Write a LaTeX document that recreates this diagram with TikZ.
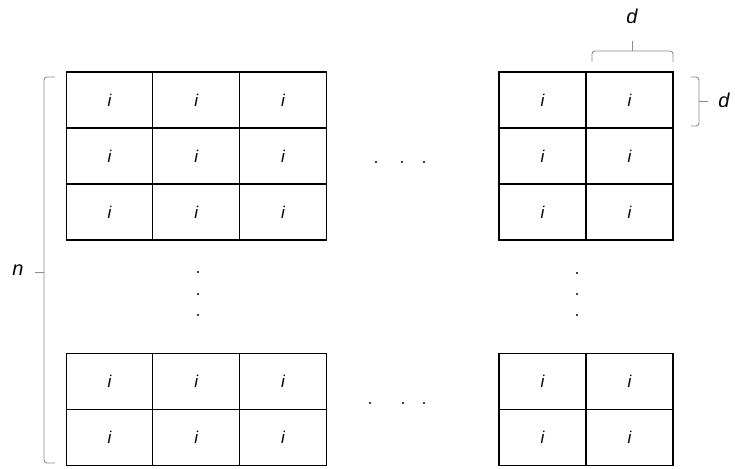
\documentclass[tikz,border=0pt]{standalone}
\usepackage{fontspec}
\setmainfont{Liberation Sans}
\begin{document}
\begin{tikzpicture}[x=1pt,y=-1pt,
  cell/.style={draw, line width=1.2pt, minimum width=86.7pt, minimum height=56pt, inner sep=0pt, font=\fontsize{17}{20}\selectfont\itshape},
  rcell/.style={cell, minimum width=87pt},
  brace/.style={draw=black!45, line width=0.9pt, rounded corners=3pt},
  dotmark/.style={circle, fill=black, inner sep=0pt, minimum size=2.4pt},
  lab/.style={font=\fontsize{20}{24}\selectfont\itshape}]
\useasboundingbox (0,0) rectangle (735,468);
\foreach \r/\y in {1/100,2/156,3/212}{
  \foreach \c/\x in {1/109.5,2/196.2,3/282.9}{
    \node[cell] (LT\r\c) at (\x,\y) {i};
  }
  \foreach \c/\x in {1/542.5,2/629.5}{
    \node[rcell] (RT\r\c) at (\x,\y) {i};
  }
}
\foreach \r/\y in {1/381.5,2/437.5}{
  \foreach \c/\x in {1/109.5,2/196.2,3/282.9}{
    \node[cell] (LB\r\c) at (\x,\y) {i};
  }
  \foreach \c/\x in {1/542.5,2/629.5}{
    \node[rcell] (RB\r\c) at (\x,\y) {i};
  }
}
% dots
\foreach \x/\n in {376/a,402/b,424/c}{\node[dotmark] (hd\n) at (\x,162) {};}
\foreach \x/\n in {370/a,403/b,424/c}{\node[dotmark] (bd\n) at (\x,403) {};}
\foreach \y/\n in {272/a,294/b,315/c}{\node[dotmark] (lv\n) at (198,\y) {};}
\foreach \y/\n in {273/a,294/b,315/c}{\node[dotmark] (rv\n) at (577,\y) {};}
% left brace n
\coordinate (nb1) at (55,77);
\coordinate (nb2) at (44,77);
\coordinate (nb3) at (44,463);
\coordinate (nb4) at (55,463);
\coordinate (nbm) at (44,272);
\coordinate (nbt) at (35,272);
\draw[brace] (nb1) -- (nb2) -- (nb3) -- (nb4);
\draw[brace] (nbm) -- (nbt);
\node[lab] (n) at (18,270) {n};
% top brace d
\coordinate (tb1) at (592,62);
\coordinate (tb2) at (592,51);
\coordinate (tb3) at (673,51);
\coordinate (tb4) at (673,62);
\coordinate (tbm) at (632,51);
\coordinate (tbt) at (632,41);
\draw[brace] (tb1) -- (tb2) -- (tb3) -- (tb4);
\draw[brace] (tbm) -- (tbt);
\node[lab] (dtop) at (632,16) {d};
% right brace d
\coordinate (rb1) at (691,77);
\coordinate (rb2) at (699,77);
\coordinate (rb3) at (699,126);
\coordinate (rb4) at (691,126);
\coordinate (rbm) at (699,101);
\coordinate (rbt) at (708,101);
\draw[brace] (rb1) -- (rb2) -- (rb3) -- (rb4);
\draw[brace] (rbm) -- (rbt);
\node[lab] (dright) at (724,100) {d};
\end{tikzpicture}
\end{document}
